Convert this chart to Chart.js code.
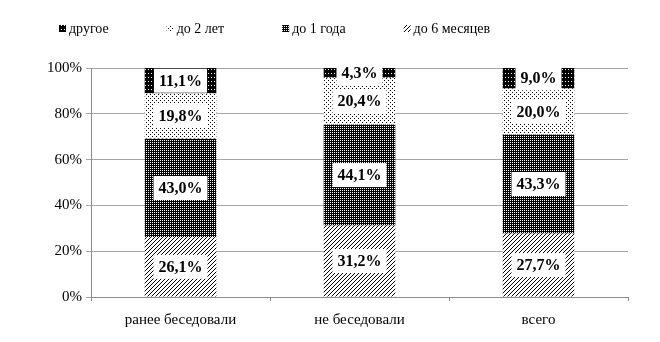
<!DOCTYPE html>
<html lang="ru">
<head>
    <meta charset="UTF-8" />
    <title>Сроки</title>
    <script src="https://cdn.jsdelivr.net/npm/chart.js"></script>
    <style>
        html, body { margin: 0; padding: 0; background: #fff; }
        #wrap { width: 660px; height: 342px; }
    </style>
</head>
<body>
    <div id="wrap"><canvas id="chart" width="660" height="342"></canvas></div>

    <script>
        // Данные
        const categories = ['ранее беседовали', 'не беседовали', 'всего'];
        const do6mes = [26.1, 31.2, 27.7];
        const do1goda = [43.0, 44.1, 43.3];
        const do2let = [19.8, 20.4, 20.0];
        const drugoe = [11.1, 4.3, 9.0];
        const yTicks = [0, 20, 40, 60, 80, 100];

        const SERIF = '"Liberation Serif", "Times New Roman", serif';

        // Штриховки
        function tile(w, h, bg, fg, pts) {
            const c = document.createElement('canvas');
            c.width = w; c.height = h;
            const g = c.getContext('2d');
            g.fillStyle = bg;
            g.fillRect(0, 0, w, h);
            g.fillStyle = fg;
            pts.forEach(p => g.fillRect(p[0], p[1], 1, 1));
            return document.createElement('canvas').getContext('2d').createPattern(c, 'repeat');
        }

        function hatch() {
            const c = document.createElement('canvas');
            c.width = 4; c.height = 4;
            const g = c.getContext('2d');
            g.fillStyle = '#fff';
            g.fillRect(0, 0, 4, 4);
            g.fillStyle = '#000';
            for (let i = 0; i < 4; i++) {
                g.fillRect(3 - i, i, 1, 1);
            }
            return document.createElement('canvas').getContext('2d').createPattern(c, 'repeat');
        }

        const patDrugoe = tile(3, 4, '#000', '#fff', [[1, 1]]);
        const patDo2 = tile(4, 4, '#fff', '#000', [[0, 0], [2, 2]]);
        const patDo1 = tile(2, 2, '#000', '#fff', [[0, 0]]);
        const patDo6 = hatch();

        // Подписи значений в белых рамках
        const valueLabels = {
            id: 'valueLabels',
            afterDatasetsDraw(chart) {
                const ctx = chart.ctx;
                ctx.save();
                ctx.font = 'bold 16px ' + SERIF;
                ctx.textAlign = 'center';
                ctx.textBaseline = 'middle';
                chart.data.datasets.forEach((ds, i) => {
                    chart.getDatasetMeta(i).data.forEach((bar, j) => {
                        const txt = ds.data[j].toFixed(1).replace('.', ',') + '%';
                        const cx = bar.x;
                        const cy = (bar.y + bar.base) / 2;
                        const w = ctx.measureText(txt).width + 10;
                        ctx.fillStyle = '#fff';
                        ctx.fillRect(cx - w / 2, cy - 12, w, 24);
                        ctx.fillStyle = '#000';
                        ctx.fillText(txt, cx, cy + 1);
                    });
                });
                ctx.restore();
            }
        };

        // Легенда сверху (в обратном порядке)
        const topLegend = {
            id: 'topLegend',
            afterDraw(chart) {
                const ctx = chart.ctx;
                ctx.save();
                ctx.font = 'normal 14px ' + SERIF;
                ctx.textAlign = 'left';
                ctx.textBaseline = 'middle';
                let x = 59;
                const y = 29;
                const items = chart.data.datasets.slice().reverse();
                items.forEach(ds => {
                    ctx.fillStyle = ds.backgroundColor;
                    ctx.fillRect(x, y - 4, 7, 7);
                    ctx.fillStyle = '#000';
                    ctx.fillText(ds.label, x + 10, y);
                    x += 10 + ctx.measureText(ds.label).width + 58;
                });
                ctx.restore();
            }
        };

        const ctx = document.getElementById('chart').getContext('2d');
        new Chart(ctx, {
            type: 'bar',
            data: {
                labels: categories,
                datasets: [
                    { label: 'до 6 месяцев', data: do6mes, backgroundColor: patDo6 },
                    { label: 'до 1 года', data: do1goda, backgroundColor: patDo1 },
                    { label: 'до 2 лет', data: do2let, backgroundColor: patDo2 },
                    { label: 'другое', data: drugoe, backgroundColor: patDrugoe }
                ]
            },
            options: {
                responsive: false,
                animation: false,
                devicePixelRatio: 1,
                categoryPercentage: 0.4,
                barPercentage: 1,
                layout: { padding: { top: 68, right: 32, left: 0, bottom: 0 } },
                plugins: {
                    legend: { display: false },
                    tooltip: { enabled: false }
                },
                scales: {
                    x: {
                        stacked: true,
                        afterFit(scale) { scale.height = 45; },
                        grid: {
                            offset: true,
                            drawOnChartArea: false,
                            drawTicks: true,
                            tickLength: 4,
                            color: '#8c8c8c'
                        },
                        border: { color: '#8c8c8c' },
                        ticks: {
                            color: '#000',
                            padding: 10,
                            font: { family: SERIF, size: 15 }
                        }
                    },
                    y: {
                        stacked: true,
                        min: 0,
                        max: 100,
                        afterFit(scale) { scale.width = 91; },
                        afterBuildTicks(scale) {
                            scale.ticks = yTicks.map(v => ({ value: v }));
                        },
                        grid: {
                            color: '#a6a6a6',
                            tickLength: 5
                        },
                        border: { color: '#8c8c8c' },
                        ticks: {
                            color: '#000',
                            padding: 4,
                            font: { family: SERIF, size: 15 },
                            callback: v => v + '%'
                        }
                    }
                }
            },
            plugins: [valueLabels, topLegend]
        });
    </script>
</body>
</html>
